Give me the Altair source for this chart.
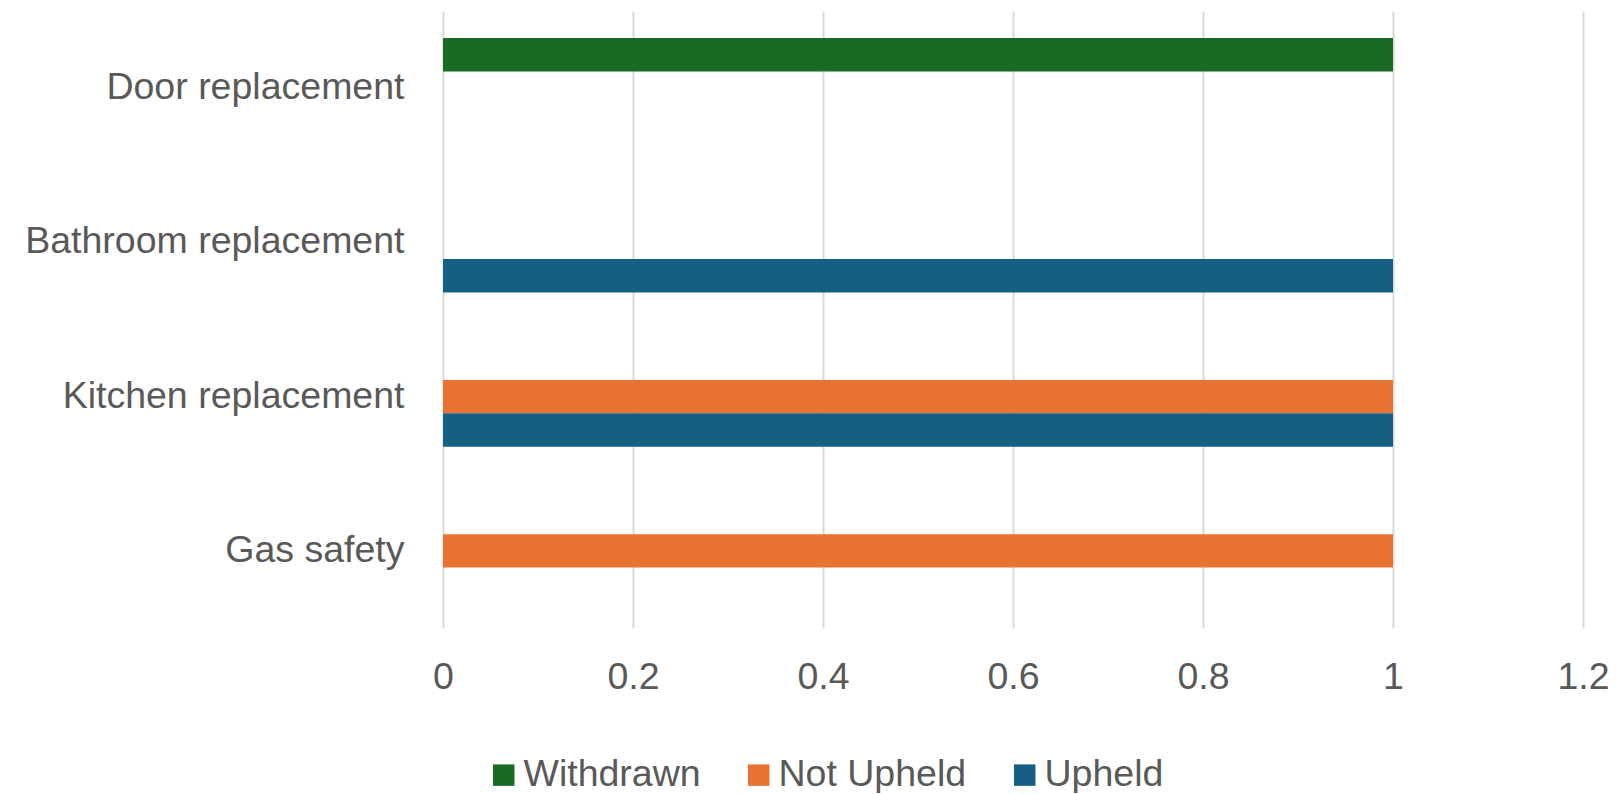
import altair as alt
import pandas as pd

categories = ["Door replacement", "Bathroom replacement", "Kitchen replacement", "Gas safety"]
series = ["Withdrawn", "Not Upheld", "Upheld"]
colors = ["#196B24", "#E97132", "#156082"]
withdrawn = [1, 0, 0, 0]
not_upheld = [0, 0, 1, 1]
upheld = [0, 1, 1, 0]
x_ticks = [0, 0.2, 0.4, 0.6, 0.8, 1.0, 1.2]

rows = []
for i, c in enumerate(categories):
    for s, vals in zip(series, [withdrawn, not_upheld, upheld]):
        rows.append({"category": c, "series": s, "value": vals[i]})
df = pd.DataFrame(rows)

FONT = "Liberation Sans"
FS = 37.5
GRAY = "#595959"

chart = alt.Chart(df).mark_bar(stroke=None).encode(
    y=alt.Y("category:N", sort=categories, title=None,
            scale=alt.Scale(paddingInner=0.35, paddingOuter=0.175),
            axis=alt.Axis(domain=False, ticks=False, labelPadding=39,
                          labelFont=FONT, labelFontSize=FS, labelColor=GRAY,
                          labelLimit=600)),
    yOffset=alt.YOffset("series:N", sort=series,
                        scale=alt.Scale(domain=series, paddingInner=0, paddingOuter=0)),
    x=alt.X("value:Q", title=None,
            scale=alt.Scale(domain=[0, 1.2], nice=False),
            axis=alt.Axis(values=x_ticks, domain=False, ticks=False, grid=True,
                          gridColor="#D9D9D9", gridWidth=2, labelPadding=30,
                          labelFont=FONT, labelFontSize=FS, labelColor=GRAY,
                          labelFlush=False, labelExpr="format(datum.value, '~g')")),
    color=alt.Color("series:N", sort=series,
                    scale=alt.Scale(domain=series, range=colors),
                    legend=alt.Legend(title=None, orient="none", direction="horizontal",
                                      legendX=42, legendY=745, symbolType="square",
                                      symbolSize=460, symbolStrokeWidth=0,
                                      symbolOpacity=1, labelOffset=1, columnPadding=39,
                                      labelFont=FONT, labelFontSize=FS, labelColor=GRAY,
                                      padding=0, labelLimit=400)),
).properties(
    width=1140, height=617,
    autosize=alt.AutoSizeParams(type="none"),
    padding={"left": 435, "top": 3, "right": 30, "bottom": 165},
).configure_view(stroke=None)

chart.save("out.html", embed_options={"renderer": "svg", "actions": False})
